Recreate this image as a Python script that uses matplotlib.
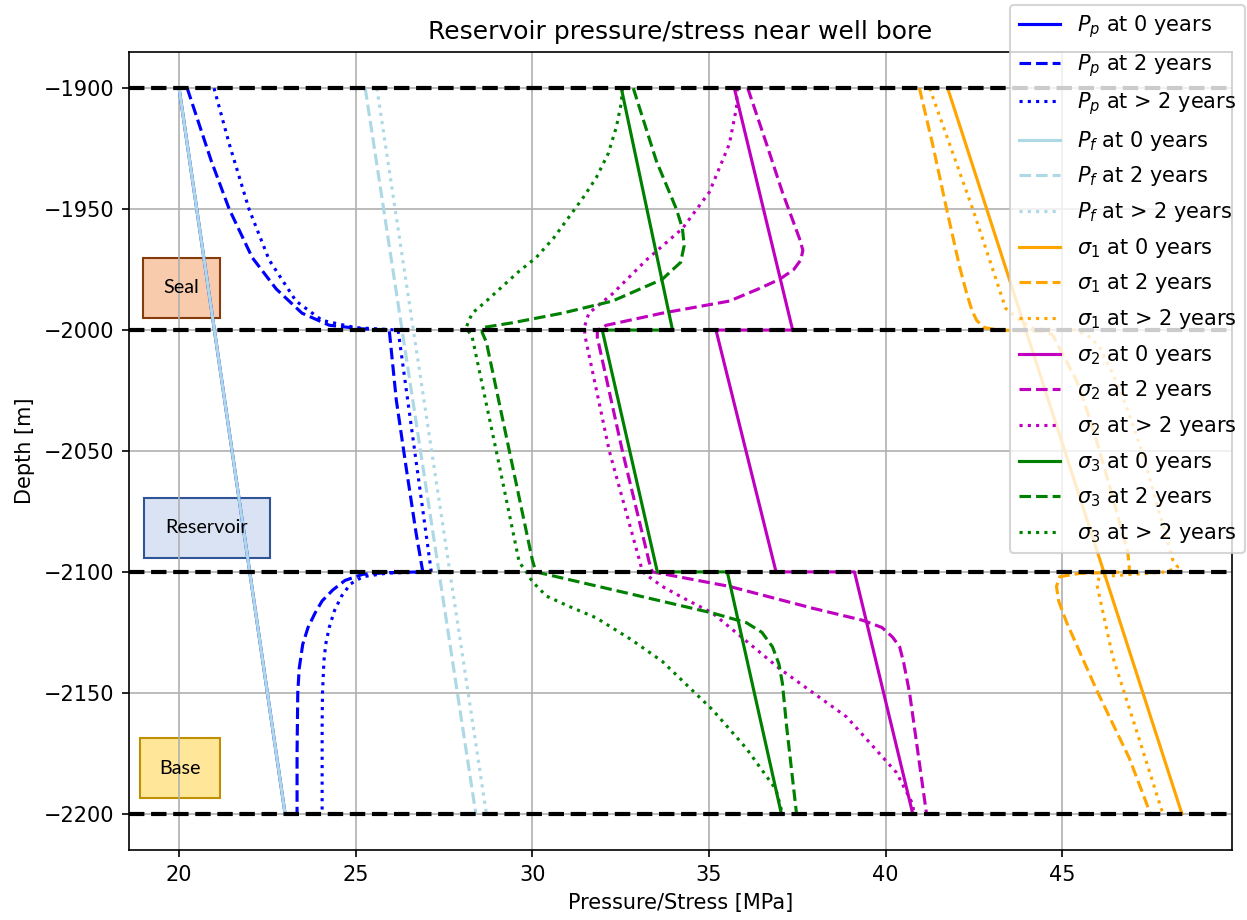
"""Pore pressure, fracture pressure and principal stresses around the well bore
through the seal / reservoir / base sequence."""

import matplotlib
matplotlib.use("Agg")
import matplotlib.pyplot as plt
from matplotlib.patches import Rectangle

# formation tops / bases [m]
INTERFACES = [-1900, -2000, -2100, -2200]

# pore pressure P_p [MPa]
pp0_depth = [-1900, -2000, -2100, -2200]
pp0 = [20.0, 21.0, 22.0, 23.0]
pp2_depth = [-1900, -1930, -1950, -1970, -1983, -1993, -1998, -1999.5, -2000,
             -2029, -2057, -2084, -2100,
             -2100.3, -2101, -2103.5, -2107.5, -2112, -2117, -2123, -2130,
             -2140, -2150, -2175, -2200]
pp2 = [20.23, 20.91, 21.42, 22.07, 22.75, 23.48, 24.25, 25.18, 25.95,
       26.15, 26.43, 26.71, 26.9,
       25.9, 25.2, 24.7, 24.35, 24.05, 23.85, 23.65, 23.5,
       23.4, 23.36, 23.34, 23.34]
ppl_depth = [-1900, -1923, -1950, -1971, -1988, -1996, -1999, -2000,
             -2100,
             -2100.5, -2102, -2105, -2110, -2116, -2123, -2130, -2137,
             -2150, -2164, -2200]
ppl = [20.99, 21.42, 21.98, 22.55, 23.31, 24.05, 25.0, 26.2,
       27.14,
       25.9, 25.2, 24.85, 24.6, 24.4, 24.25, 24.15, 24.1,
       24.06, 24.05, 24.05]

# fracture pressure P_f [MPa]
pf0_depth = [-1900, -2000, -2100, -2200]
pf0 = [20.0, 21.0, 22.0, 23.0]
pf2_depth = [-1900, -2200]
pf2 = [25.27, 28.4]
pfl_depth = [-1900, -2200]
pfl = [25.6, 28.7]

# sigma_1 [MPa]
s10_depth = [-1900, -2200]
s10 = [41.76, 48.39]
s12_depth = [-1900, -1923, -1950, -1974, -1985, -1992, -1996, -1999, -2000,
             -2000.5, -2002, -2021, -2034, -2046, -2065, -2092, -2098, -2100,
             -2100.6, -2102, -2106, -2112, -2121, -2149, -2177, -2200]
s12 = [40.96, 41.33, 41.73, 42.1, 42.3, 42.45, 42.58, 42.8, 43.2,
       44.5, 44.73, 45.41, 45.72, 45.98, 46.35, 46.86, 46.9, 46.9,
       45.5, 44.93, 44.84, 44.9, 45.13, 45.98, 46.9, 47.5]
s1l_depth = [-1900, -1950, -1991, -1996, -1999.5, -2000, -2003, -2007,
             -2018, -2032, -2051, -2072, -2086, -2095, -2098, -2100,
             -2102, -2105, -2135, -2170, -2200]
s1l = [41.25, 42.47, 43.4, 43.8, 44.2, 45.4, 45.8, 46.06,
       46.43, 46.83, 47.28, 47.68, 47.96, 48.13, 48.27, 47.96,
       46.06, 45.98, 46.43, 47.2, 47.85]

# sigma_2 [MPa]
s20_depth = [-1900, -2000, -2000, -2100, -2100, -2200]
s20 = [35.72, 37.37, 35.2, 36.9, 39.12, 40.77]
s22_depth = [-1900, -1923, -1943, -1962, -1967, -1971, -1975, -1979, -1983,
             -1988, -1993, -1998, -2000, -2003, -2050, -2096, -2100,
             -2106, -2115, -2120, -2123, -2127, -2131, -2138, -2150, -2200]
s22 = [36.1, 36.63, 37.08, 37.56, 37.66, 37.6, 37.4, 37.0, 36.4,
       35.58, 33.68, 32.1, 31.84, 31.84, 32.55, 33.31, 33.4,
       35.58, 37.93, 39.35, 39.9, 40.2, 40.4, 40.52, 40.68, 41.16]
s2l_depth = [-1900, -1908, -1923, -1943, -1958, -1971, -1985, -1993, -1999,
             -2003, -2050, -2095, -2100,
             -2102, -2106, -2111, -2117, -2140, -2160, -2183, -2196, -2200]
s2l = [35.8, 35.78, 35.58, 35.01, 34.25, 33.23, 32.27, 31.6, 31.47,
       31.5, 32.18, 33.03, 33.12,
       33.3, 33.68, 34.3, 35.1, 37.0, 38.9, 40.31, 40.77, 40.8]

# sigma_3 [MPa]
s30_depth = [-1900, -2000, -2000, -2100, -2100, -2200]
s30 = [32.52, 33.97, 31.98, 33.54, 35.52, 37.05]
s32_depth = [-1900, -1930, -1950, -1958, -1965, -1972, -1976, -1979, -1988,
             -1993, -1997, -1999, -2001, -2005, -2050, -2095, -2100,
             -2109, -2117, -2121, -2125, -2131, -2138, -2146, -2164, -2200]
s32 = [32.86, 33.51, 34.08, 34.25, 34.3, 34.2, 33.9, 33.68, 32.27,
       30.85, 29.43, 28.58, 28.58, 28.7, 29.35, 30.0, 30.1,
       32.75, 35.1, 36.06, 36.5, 36.8, 36.98, 37.08, 37.2, 37.48]
s3l_depth = [-1900, -1906, -1916, -1927, -1937, -1945, -1953, -1962, -1970,
             -1976, -1982, -1988, -1993, -1997, -1999,
             -2003, -2050, -2096, -2100,
             -2104, -2110, -2114, -2119, -2128, -2137, -2157, -2173, -2190,
             -2200]
s3l = [32.55, 32.52, 32.38, 32.15, 31.81, 31.45, 31.05, 30.6, 30.11,
       29.6, 29.15, 28.7, 28.3, 28.18, 28.13,
       28.3, 28.98, 29.63, 29.83,
       30.0, 30.4, 31.0, 31.81, 32.8, 33.68, 35.1, 36.06, 36.9,
       37.08]

SERIES = [
    (r"$P_p$", "blue", [(pp0, pp0_depth), (pp2, pp2_depth), (ppl, ppl_depth)]),
    (r"$P_f$", "lightblue", [(pf0, pf0_depth), (pf2, pf2_depth), (pfl, pfl_depth)]),
    (r"$\sigma_1$", "orange", [(s10, s10_depth), (s12, s12_depth), (s1l, s1l_depth)]),
    (r"$\sigma_2$", "m", [(s20, s20_depth), (s22, s22_depth), (s2l, s2l_depth)]),
    (r"$\sigma_3$", "green", [(s30, s30_depth), (s32, s32_depth), (s3l, s3l_depth)]),
]
TIMES = ["0 years", "2 years", "> 2 years"]
STYLES = ["-", "--", ":"]

# (label, axes x, axes y, width, height, face, edge)
ZONES = [
    ("Seal", 0.0127, 0.667, 0.070, 0.075, "#f8cbad", "#843c0c"),
    ("Reservoir", 0.0136, 0.366, 0.114, 0.075, "#dae3f3", "#2f5597"),
    ("Base", 0.0100, 0.065, 0.073, 0.075, "#ffe699", "#bf9000"),
]

fig = plt.figure(figsize=(1247 / 150, 920 / 150), dpi=150)
ax = fig.add_axes([0.1034, 0.0761, 0.8846, 0.8674])

for name, color, curves in SERIES:
    for (vals, depth), when, ls in zip(curves, TIMES, STYLES):
        ax.plot(vals, depth, color=color, ls=ls, label=f"{name} at {when}")

for d in INTERFACES:
    ax.axhline(d, color="black", ls="--", lw=2)

for text, x0, y0, w, h, face, edge in ZONES:
    ax.add_patch(Rectangle((x0, y0), w, h, transform=ax.transAxes,
                           facecolor=face, edgecolor=edge, lw=1, zorder=1))
    ax.text(x0 + w / 2, y0 + h / 2, text, transform=ax.transAxes,
            ha="center", va="center", fontsize=9.5, family="Lato", zorder=3)

ax.set_xlabel("Pressure/Stress [MPa]")
ax.set_ylabel("Depth [m]")
ax.set_title("Reservoir pressure/stress near well bore")
ax.grid(True)
ax.legend(loc="upper right", bbox_to_anchor=(0.9985, 0.9945),
          bbox_transform=fig.transFigure, borderaxespad=0, labelspacing=0.56)

fig.savefig("out.png", dpi=150)
